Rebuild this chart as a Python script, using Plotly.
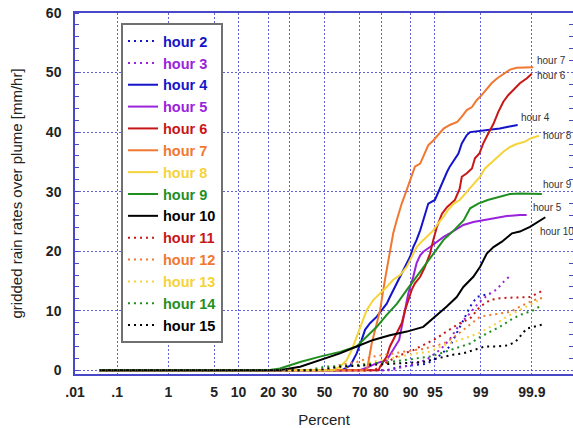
from statistics import NormalDist
import plotly.graph_objects as go

# ---- data: cumulative percent vs gridded rain rate [mm/hr] ----
pct_h2 = [0.04, 82.0, 86.9, 91.5, 93.6, 94.75, 95.8, 96.9, 97.56, 98.07, 98.5, 98.84, 99.1, 99.32]
rate_h2 = [0, 0, 0.6, 0.9, 1.1, 1.7, 2.6, 4.0, 6.2, 8.4, 10.7, 12.3, 12.6, 12.9]

pct_h3 = [0.04, 84.0, 88.0, 90.7, 93.6, 95.8, 96.9, 97.56, 98.07, 98.5, 98.77, 99.04, 99.32, 99.49, 99.59, 99.71]
rate_h3 = [0, 0, 0.6, 1.0, 1.8, 3.5, 5.2, 7.0, 8.4, 9.6, 10.7, 11.8, 12.9, 13.6, 14.6, 15.8]

pct_h4 = [0.04, 60.0, 65.0, 68.4, 71.0, 72.7, 75.1, 78.2, 80.3, 82.3, 83.5, 85.3, 87.0, 88.0, 89.0, 89.9,
          90.7, 91.5, 92.3, 92.95, 93.6, 93.9, 95.0, 95.5, 96.2, 96.6, 96.9, 97.3, 97.7, 97.96, 98.3,
          98.5, 98.98, 99.32, 99.55, 99.69, 99.8]
rate_h4 = [0, 0, 0.8, 2.85, 5.1, 6.8, 7.9, 9.0, 10.1, 11.2, 12.3, 14.0, 15.7, 16.8, 18.0, 19.1,
           20.7, 21.9, 23.5, 25.2, 26.9, 28.0, 28.6, 30.0, 31.9, 33.3, 34.2, 35.3, 36.4, 38.1, 39.5,
           40.0, 40.2, 40.3, 40.6, 40.9, 41.2]

pct_h5 = [0.04, 70.0, 74.0, 78.2, 82.3, 84.7, 86.7, 87.5, 88.5, 89.4, 90.7, 91.5, 92.3, 92.95, 94.2,
          95.3, 96.2, 96.9, 97.56, 98.07, 98.67, 99.1, 99.41, 99.67, 99.82, 99.87]
rate_h5 = [0, 0, 0.5, 1.2, 1.7, 3.4, 5.1, 7.3, 10.1, 12.9, 15.7, 18.0, 19.3, 19.9, 20.7,
           21.6, 22.4, 23.0, 23.8, 24.4, 24.9, 25.2, 25.5, 25.9, 26.1, 26.1]

pct_h6 = [0.04, 79.0, 79.6, 82.3, 83.5, 84.7, 86.4, 87.5, 88.5, 89.4, 90.3, 91.1, 92.3, 93.3, 94.2,
          94.75, 95.3, 96.0, 96.6, 97.4, 97.8, 97.96, 98.3, 98.6, 98.75, 98.95, 99.1, 99.27, 99.41,
          99.52, 99.615, 99.69, 99.75, 99.82, 99.87, 99.9]
rate_h6 = [0, 0, 0.6, 2.3, 4.0, 5.1, 6.8, 7.9, 10.1, 11.8, 13.5, 14.6, 15.7, 17.4, 19.6,
           21.9, 24.1, 26.3, 27.4, 28.6, 30.5, 32.5, 33.1, 33.9, 35.6, 36.4, 38.1, 39.8, 41.4,
           43.4, 45.1, 46.2, 47.0, 48.2, 49.0, 49.8]

pct_h7 = [0.04, 73.0, 73.8, 75.9, 78.2, 79.6, 81.6, 83.5, 84.7, 85.9, 87.5, 88.8, 89.9, 91.1, 92.3,
          93.3, 93.9, 94.75, 95.5, 96.2, 96.9, 97.6, 97.96, 98.3, 98.6, 98.84, 99.04, 99.22, 99.36,
          99.49, 99.615, 99.715, 99.79, 99.907]
rate_h7 = [0, 0, 0.3, 4.5, 7.9, 10.1, 15.2, 20.2, 23.0, 25.2, 28.0, 30.0, 31.9, 34.2, 34.7,
           36.4, 37.8, 38.6, 39.5, 40.6, 41.2, 41.7, 42.6, 43.7, 44.2, 45.4, 46.2, 47.3, 48.2,
           49.0, 49.8, 50.5, 50.8, 50.9]

pct_h8 = [0.04, 55.0, 59.1, 62.9, 65.7, 68.4, 71.0, 73.5, 76.6, 79.6, 82.3, 84.7, 87.0, 89.0, 90.3,
          91.5, 92.6, 93.6, 94.75, 95.5, 96.2, 96.7, 97.3, 97.8, 98.3, 98.7, 98.98, 99.16, 99.32,
          99.49, 99.615, 99.715, 99.79, 99.86, 99.89, 99.93]
rate_h8 = [0, 0, 0.6, 1.7, 3.4, 5.6, 7.9, 10.1, 11.8, 12.9, 14.0, 15.2, 16.0, 17.4, 19.1,
           20.7, 21.6, 22.4, 23.5, 24.7, 25.8, 26.9, 28.0, 28.6, 30.0, 31.4, 32.5, 33.9, 34.7,
           35.8, 36.7, 37.5, 38.0, 38.4, 38.9, 39.4]

pct_h9 = [0.04, 20.0, 25.3, 35.8, 47.3, 59.1, 68.4, 73.5, 78.2, 82.3, 86.0, 89.0, 91.5, 93.6, 95.3,
          96.2, 97.3, 98.1, 98.5, 98.9, 99.25, 99.55, 99.715, 99.82, 99.89, 99.94]
rate_h9 = [0, 0, 0.3, 1.4, 2.3, 3.1, 4.0, 5.6, 7.3, 9.3, 11.2, 13.5, 15.7, 18.0, 20.2,
           21.9, 23.5, 25.2, 27.2, 28.0, 28.6, 29.1, 29.6, 29.7, 29.7, 29.6]

pct_h10 = [0.04, 25.0, 35.8, 47.3, 59.1, 68.4, 76.6, 83.5, 89.0, 92.95, 94.75, 96.57, 97.56, 98.07,
           98.67, 98.98, 99.22, 99.41, 99.59, 99.74, 99.82, 99.89, 99.95]
rate_h10 = [0, 0, 0.6, 1.7, 2.85, 4.0, 5.1, 5.9, 6.5, 7.3, 8.7, 10.7, 12.3, 14.0,
            15.7, 17.4, 19.6, 20.7, 21.6, 23.0, 23.3, 24.1, 25.7]

pct_h11 = [0.04, 77.0, 79.4, 85.8, 90.7, 92.95, 94.2, 95.3, 96.2, 97.1, 97.8, 98.5, 98.98, 99.32,
           99.55, 99.715, 99.82, 99.89, 99.94]
rate_h11 = [0, 0, 0.6, 2.3, 3.4, 4.2, 4.8, 5.4, 6.2, 7.0, 7.9, 8.7, 10.7, 11.8,
            12.1, 12.2, 12.2, 12.3, 13.3]

pct_h12 = [0.04, 50.0, 59.1, 68.4, 76.6, 83.5, 89.0, 92.95, 94.75, 96.2, 97.2, 98.07, 98.67, 98.98,
           99.32, 99.55, 99.715, 99.82, 99.91, 99.95]
rate_h12 = [0, 0, 0.9, 1.4, 2.3, 2.8, 3.2, 3.6, 4.0, 4.5, 5.4, 6.8, 8.2, 9.0,
            9.3, 9.6, 9.8, 10.7, 11.8, 12.3]

pct_h13 = [0.04, 55.0, 68.4, 83.5, 91.5, 94.2, 95.8, 96.9, 97.8, 98.5, 98.91, 99.22, 99.49, 99.67,
           99.79, 99.87, 99.93]
rate_h13 = [0, 0, 0.9, 2.0, 2.85, 3.1, 4.0, 4.5, 5.1, 5.6, 6.2, 7.0, 7.9, 9.0,
            9.8, 10.7, 11.8]

pct_h14 = [0.04, 40.0, 50.0, 68.4, 83.5, 91.5, 94.2, 95.8, 96.9, 97.8, 98.5, 98.98, 99.32, 99.55,
           99.715, 99.82, 99.91, 99.94]
rate_h14 = [0, 0, 0.6, 0.9, 1.4, 2.0, 2.3, 2.85, 3.4, 4.0, 4.5, 5.6, 6.5, 7.3,
            8.4, 9.3, 10.1, 11.0]

pct_h15 = [0.04, 45.0, 59.1, 76.6, 86.9, 92.95, 94.75, 96.2, 97.2, 98.07, 98.67, 99.16, 99.49,
           99.69, 99.78, 99.82, 99.87, 99.92, 99.95]
rate_h15 = [0, 0, 0.6, 0.9, 1.2, 1.4, 1.85, 2.3, 2.6, 2.85, 3.4, 4.0, 4.0,
            4.2, 4.8, 5.6, 7.0, 7.4, 7.8]

hours = [2, 3, 4, 5, 6, 7, 8, 9, 10, 11, 12, 13, 14, 15]
pct_data = [pct_h2, pct_h3, pct_h4, pct_h5, pct_h6, pct_h7, pct_h8, pct_h9, pct_h10,
            pct_h11, pct_h12, pct_h13, pct_h14, pct_h15]
rate_data = [rate_h2, rate_h3, rate_h4, rate_h5, rate_h6, rate_h7, rate_h8, rate_h9, rate_h10,
             rate_h11, rate_h12, rate_h13, rate_h14, rate_h15]

# probability-axis tick labels (percent)
tick_pct = [0.01, 0.1, 1, 5, 10, 20, 30, 50, 70, 80, 90, 95, 99, 99.9]
tick_text = [".01", ".1", "1", "5", "10", "20", "30", "50", "70", "80", "90", "95", "99", "99.9"]

# hours whose curve end carries a text label
end_labels = [7, 6, 4, 8, 9, 5, 10]

# ---- styling ----
BLUE = "#1414c8"
PURPLE = "#9a22dc"
RED = "#c81616"
ORANGE = "#f07830"
YELLOW = "#f5d33a"
GREEN = "#1f8f1f"
BLACK = "#000000"
colors = {2: BLUE, 3: PURPLE, 4: BLUE, 5: PURPLE, 6: RED, 7: ORANGE, 8: YELLOW, 9: GREEN,
          10: BLACK, 11: RED, 12: ORANGE, 13: YELLOW, 14: GREEN, 15: BLACK}
dotted = {2, 3, 11, 12, 13, 14, 15}
label_shift = {7: (2, 7), 6: (3, -2), 4: (1, 7), 8: (2, 0), 9: (-1, 10), 5: (4, 7), 10: (-7, -14)}

AXIS = "#4848c8"
GRID = "rgba(70,70,210,0.85)"
FONT = "Arial, Liberation Sans, sans-serif"

nd = NormalDist()


def probit(values):
    """Percent -> standard normal quantile (normal probability scale)."""
    return [nd.inv_cdf(v / 100.0) for v in values]


fig = go.Figure()
for h, pcts, rates in zip(hours, pct_data, rate_data):
    c = colors[h]
    fig.add_trace(go.Scatter(
        x=probit(pcts), y=rates, mode="lines",
        name=f'<span style="color:{c}">hour {h}</span>',
        line=dict(color=c, width=2, dash="2px,4px" if h in dotted else "solid"),
        hoverinfo="skip",
    ))

# right-hand axis carrying only the inward minor ticks
fig.add_trace(go.Scatter(x=[None], y=[None], yaxis="y2", showlegend=False, hoverinfo="skip"))

annotations = []
for h in end_labels:
    i = hours.index(h)
    dx, dy = label_shift[h]
    annotations.append(dict(
        x=probit([pct_data[i][-1]])[0], y=rate_data[i][-1], xref="x", yref="y",
        text=f"hour {h}", showarrow=False, xanchor="left", yanchor="middle",
        xshift=dx, yshift=dy, font=dict(family=FONT, size=10, color="#333333"),
    ))

yrange = [-0.62, 60]
fig.update_layout(
    width=573, height=428,
    margin=dict(l=75, r=0, t=13, b=54),
    paper_bgcolor="white", plot_bgcolor="white",
    font=dict(family=FONT, color="#222222"),
    showlegend=True,
    legend=dict(
        x=0.0924, y=0.972, xanchor="left", yanchor="top",
        bgcolor="white", bordercolor="#707070", borderwidth=2,
        font=dict(family=FONT, size=14.5, weight="bold"),
        tracegroupgap=0,
    ),
    xaxis=dict(
        range=[nd.inv_cdf(0.0001), 3.703],
        tickmode="array", tickvals=probit(tick_pct), ticktext=tick_text,
        showgrid=True, gridcolor=GRID, gridwidth=1, griddash="2px,2px",
        showline=True, linecolor=AXIS, linewidth=1.5, mirror=True,
        zeroline=False, ticks="", ticklabelstandoff=4,
        tickfont=dict(family=FONT, size=14, weight="bold", color="#222222"),
        title=dict(text="Percent", standoff=18,
                   font=dict(family=FONT, size=15, color="#222222")),
    ),
    yaxis=dict(
        range=yrange, tickmode="array", tickvals=[0, 10, 20, 30, 40, 50, 60],
        showgrid=True, gridcolor=GRID, gridwidth=1, griddash="2px,2px",
        showline=True, linecolor=AXIS, linewidth=1.5, mirror=False,
        zeroline=False, ticks="", ticklabelstandoff=9,
        minor=dict(dtick=2, tick0=0, ticks="inside", ticklen=4, tickcolor=AXIS,
                   tickwidth=1, showgrid=False),
        tickfont=dict(family=FONT, size=14, weight="bold", color="#222222"),
        title=dict(text="gridded rain rates over plume [mm/hr]", standoff=20,
                   font=dict(family=FONT, size=15, color="#222222")),
    ),
    yaxis2=dict(
        range=yrange, overlaying="y", side="right", anchor="x",
        showline=False, showgrid=False, zeroline=False, showticklabels=False, ticks="",
        minor=dict(dtick=2, tick0=0, ticks="inside", ticklen=4, tickcolor=AXIS,
                   tickwidth=1, showgrid=False),
    ),
    annotations=annotations,
)

fig.write_html("out.html")
